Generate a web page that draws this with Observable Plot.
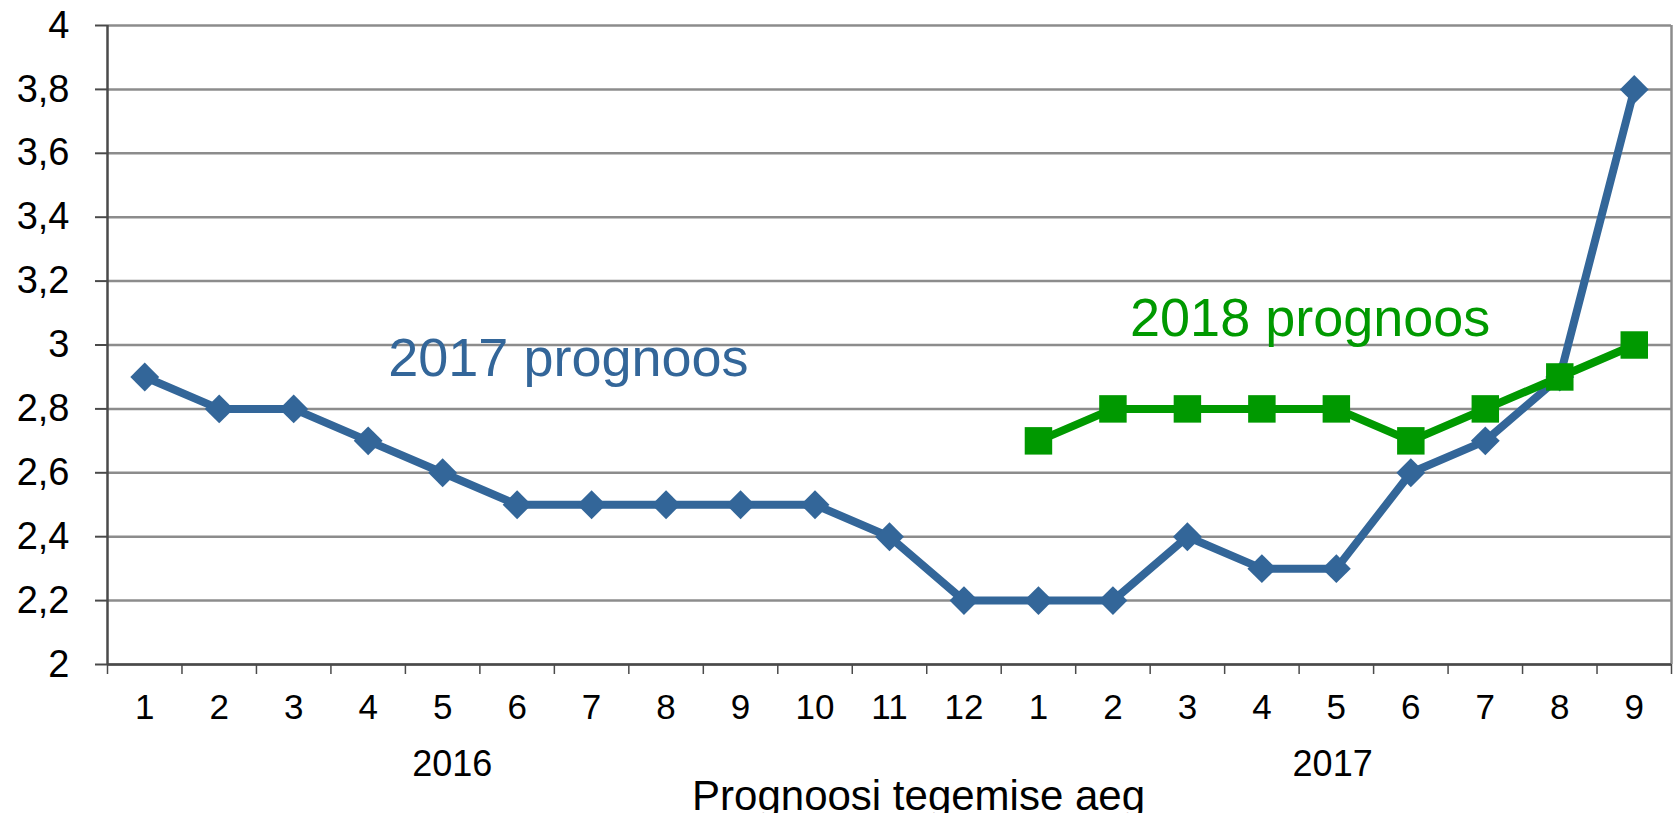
<!DOCTYPE html>
<html>
<head>
<meta charset="utf-8">
<script src="https://cdn.jsdelivr.net/npm/d3@7"></script>
<script src="https://cdn.jsdelivr.net/npm/@observablehq/plot@0.6"></script>
<style>
  html, body { margin: 0; padding: 0; background: #fff; }
  #chart svg { display: block; }
</style>
</head>
<body>
<div id="chart"></div>
<script>
// ---- data ----
const monthLabels = ["1","2","3","4","5","6","7","8","9","10","11","12","1","2","3","4","5","6","7","8","9"];
const yearLabels = ["2016", "2017"];
const forecast2017 = [2.9, 2.8, 2.8, 2.7, 2.6, 2.5, 2.5, 2.5, 2.5, 2.5, 2.4, 2.2, 2.2, 2.2, 2.4, 2.3, 2.3, 2.6, 2.7, 2.9, 3.8];
const forecast2018 = [null, null, null, null, null, null, null, null, null, null, null, null, 2.7, 2.8, 2.8, 2.8, 2.8, 2.7, 2.8, 2.9, 3.0];
const yTicks = [2, 2.2, 2.4, 2.6, 2.8, 3, 3.2, 3.4, 3.6, 3.8, 4];
const seriesNames = ["2017 prognoos", "2018 prognoos"];
const axisTitle = "Prognoosi tegemise aeg";

// ---- derived tables ----
const idx = monthLabels.map((_, i) => i + 1);
const blue = idx.map((i) => ({i, v: forecast2017[i - 1]}));
const green = idx.map((i) => ({i, v: forecast2018[i - 1]})).filter(d => d.v != null);
const bounds = d3.range(0, monthLabels.length + 1).map(k => k + 0.5);

const BLUE = "#336699", GREEN = "#009900", GRID = "#8c8c8c", AXIS = "#4a4a4a";

const chart = Plot.plot({
  width: 1674,
  height: 813,
  marginTop: 25,
  marginBottom: 149,
  marginLeft: 107,
  marginRight: 3,
  x: {type: "linear", domain: [0.5, monthLabels.length + 0.5]},
  y: {domain: [2, 4]},
  style: {fontFamily: "'Liberation Sans', Arial, sans-serif", background: "#fff", color: "black"},
  marks: [
    Plot.gridY(yTicks, {stroke: GRID, strokeOpacity: 1, strokeWidth: 2.5}),
    Plot.ruleX([bounds[bounds.length - 1]], {stroke: GRID, strokeWidth: 2.5}),
    Plot.ruleX([bounds[0]], {stroke: AXIS, strokeWidth: 2.5}),
    Plot.ruleY([2], {stroke: AXIS, strokeWidth: 2.5}),
    Plot.axisY(yTicks, {
      tickSize: 12, tickPadding: 26, stroke: AXIS, strokeWidth: 2, fill: "black",
      fontSize: 38, label: null,
      tickFormat: d => String(d).replace(".", ",")
    }),
    Plot.axisX(bounds, {tickSize: 10, stroke: AXIS, strokeWidth: 1.5, tickFormat: () => "", label: null}),
    Plot.axisX(idx, {
      tickSize: 0, tickPadding: 30, fontSize: 35, fill: "black", label: null,
      tickFormat: d => monthLabels[d - 1]
    }),
    Plot.text([yearLabels[0]], {x: 5.13, y: 1.687, fontSize: 36, fill: "black"}),
    Plot.text([yearLabels[1]], {x: 16.95, y: 1.687, fontSize: 36, fill: "black"}),
    Plot.text([axisTitle], {x: 11.39, y: 1.587, fontSize: 42, fill: "black"}),
    Plot.line(blue, {x: "i", y: "v", stroke: BLUE, strokeWidth: 8, strokeLinejoin: "round"}),
    Plot.dot(blue, {x: "i", y: "v", symbol: "diamond2", r: 13, fill: BLUE, stroke: "none"}),
    Plot.line(green, {x: "i", y: "v", stroke: GREEN, strokeWidth: 8, strokeLinejoin: "round"}),
    Plot.dot(green, {x: "i", y: "v", symbol: "square", r: 15.5, fill: GREEN, stroke: "none"}),
    Plot.text([seriesNames[0]], {x: 4.27, y: 2.956, fontSize: 54, fill: BLUE, textAnchor: "start"}),
    Plot.text([seriesNames[1]], {x: 14.23, y: 3.082, fontSize: 54, fill: GREEN, textAnchor: "start"})
  ]
});
document.getElementById("chart").appendChild(chart);
</script>
</body>
</html>
